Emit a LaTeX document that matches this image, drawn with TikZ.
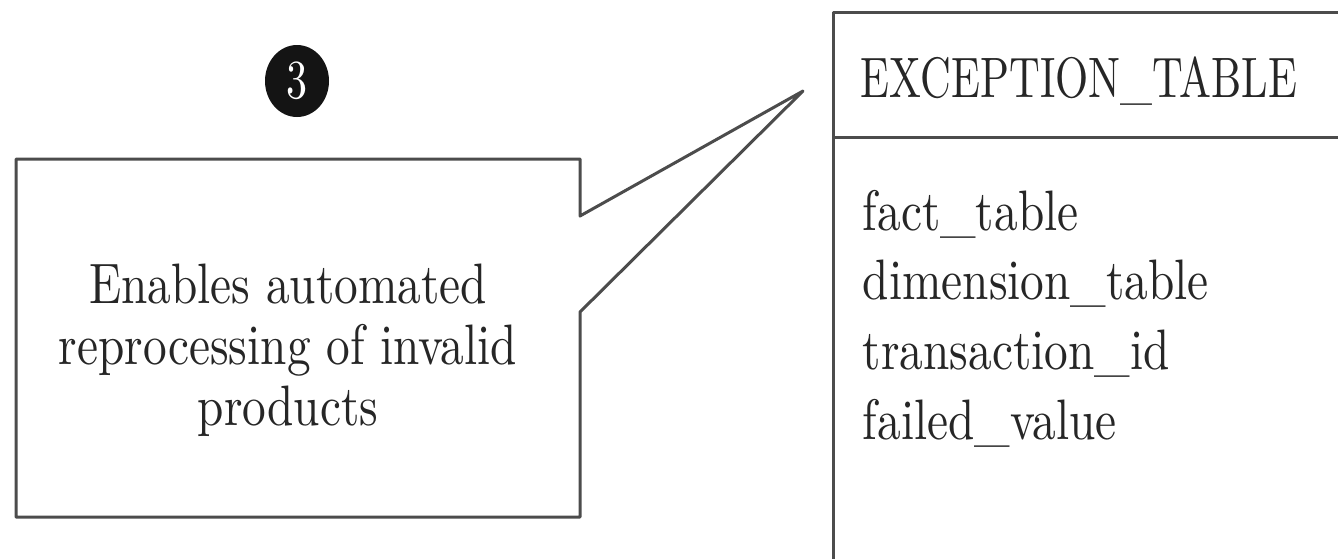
\documentclass[tikz,border=0pt]{standalone}
\usetikzlibrary{shapes.geometric}
\tikzset{
  txt/.style={font=\fontsize{10}{10.7}\selectfont, text=black!85, inner sep=0pt, scale=5.7, xscale=0.83, transform shape},
  ln/.style={line width=3pt, draw=black!70, line join=round}
}
\begin{document}
\begin{tikzpicture}[x=1pt,y=-1pt]
\clip (0,0) rectangle (1338,558);
\coordinate (C0) at (16,159);
\coordinate (C1) at (580,159);
\coordinate (C2) at (580,216);
\coordinate (C3) at (803,91);
\coordinate (C4) at (580,312);
\coordinate (C5) at (580,517);
\coordinate (C6) at (16,517);
\coordinate (T0) at (833,12);
\coordinate (T1) at (1345,12);
\coordinate (T2) at (833,570);
\coordinate (H0) at (833,137);
\coordinate (H1) at (1345,137);
\draw[ln] (C0) -- (C1) -- (C2) -- (C3) -- (C4) -- (C5) -- (C6) -- cycle;
\draw[ln] (T2) -- (T0) -- (T1)
          (H0) -- (H1);
\node[ellipse, fill=black!92, minimum width=64pt, minimum height=72pt, inner sep=0pt,
      text=white, font=\fontsize{10}{10}\selectfont] (badge) at (297,81) {\scalebox{4.2}[5.5]{3}};
\node[txt, align=center, anchor=base] (note) at (288,425)
  {Enables automated\\reprocessing of invalid\\products};
\node[txt, xscale=0.9, anchor=base west] (title) at (860,97) {EXCEPTION\_TABLE};
\node[txt, align=left, anchor=base west, font=\fontsize{10}{12.2}\selectfont] (fields) at (862,439)
  {fact\_table\\dimension\_table\\transaction\_id\\failed\_value};
\end{tikzpicture}
\end{document}
